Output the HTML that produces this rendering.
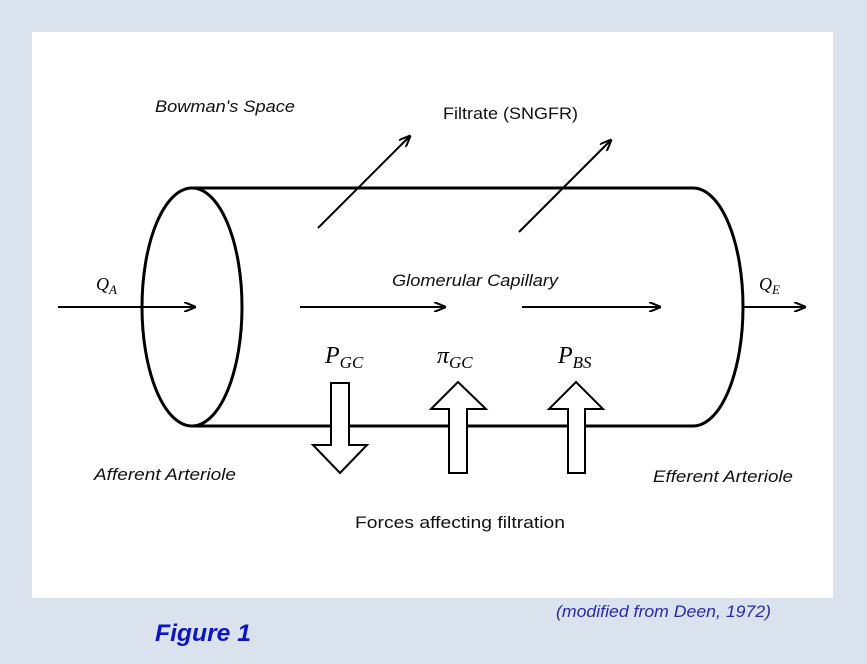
<!DOCTYPE html>
<html><head><style>
body{margin:0;width:867px;height:664px;background:#dae2ee;overflow:hidden;font-family:"Liberation Sans",sans-serif}
</style></head><body>
<svg width="867" height="664" xmlns="http://www.w3.org/2000/svg" style="position:absolute;left:0;top:0">
<defs><marker id="ah" markerWidth="12" markerHeight="10" refX="11" refY="5" orient="auto" markerUnits="userSpaceOnUse"><path d="M0,0 L12,5 L0,10" fill="none" stroke="#000" stroke-width="2"/></marker></defs>
<rect x="32" y="32" width="801" height="566" fill="#fff"/>
<g stroke="#000" stroke-width="3" fill="none">
<ellipse cx="192" cy="307" rx="50" ry="119"/>
<line x1="192" y1="188" x2="693" y2="188"/>
<line x1="192" y1="426" x2="693" y2="426"/>
<path d="M693,188 A50,119 0 0 1 693,426"/>
</g>
<g stroke="#000" stroke-width="2" fill="none" marker-end="url(#ah)">
<line x1="58" y1="307" x2="195" y2="307"/>
<line x1="300" y1="307" x2="445" y2="307"/>
<line x1="522" y1="307" x2="660" y2="307"/>
<line x1="743" y1="307" x2="805" y2="307"/>
<line x1="318" y1="228" x2="410" y2="136"/>
<line x1="519" y1="232" x2="611" y2="140"/>
</g>
<g stroke="#000" stroke-width="2" fill="#fff">
<path d="M331,383 H349 V445 H367 L340,473 L313,445 H331 Z"/>
<path d="M449,473 V409 H431 L458,382 L486,409 H467 V473 Z"/>
<path d="M568,473 V409 H549 L576,382 L603,409 H585 V473 Z"/>
</g>
<g font-family="Liberation Serif, serif" font-style="italic" fill="#000">
<text x="325" y="363" font-size="24">P<tspan font-size="17" dy="5">GC</tspan></text>
<text x="437" y="363" font-size="24">π<tspan font-size="17" dy="5">GC</tspan></text>
<text x="558" y="363" font-size="24">P<tspan font-size="17" dy="5">BS</tspan></text>
<text x="96" y="290" font-size="18">Q<tspan font-size="13" dy="4">A</tspan></text>
<text x="759" y="290" font-size="18">Q<tspan font-size="13" dy="4">E</tspan></text>
</g>
<g font-size="17" fill="#111">
<text x="155" y="112" font-style="italic" textLength="140" lengthAdjust="spacingAndGlyphs">Bowman's Space</text>
<text x="443" y="119" textLength="135" lengthAdjust="spacingAndGlyphs">Filtrate (SNGFR)</text>
<text x="392" y="286" font-style="italic" textLength="166" lengthAdjust="spacingAndGlyphs">Glomerular Capillary</text>
<text x="94" y="480" font-style="italic" textLength="142" lengthAdjust="spacingAndGlyphs">Afferent Arteriole</text>
<text x="653" y="482" font-style="italic" textLength="140" lengthAdjust="spacingAndGlyphs">Efferent Arteriole</text>
<text x="355" y="528" textLength="210" lengthAdjust="spacingAndGlyphs">Forces affecting filtration</text>
</g>
<text x="155" y="641" font-size="24" font-weight="bold" font-style="italic" fill="#0c14c4" textLength="96" lengthAdjust="spacingAndGlyphs">Figure 1</text>
<text x="556" y="617" font-size="17" font-style="italic" fill="#2a2aa6" textLength="215" lengthAdjust="spacingAndGlyphs">(modified from Deen, 1972)</text>
</svg>
</body></html>
